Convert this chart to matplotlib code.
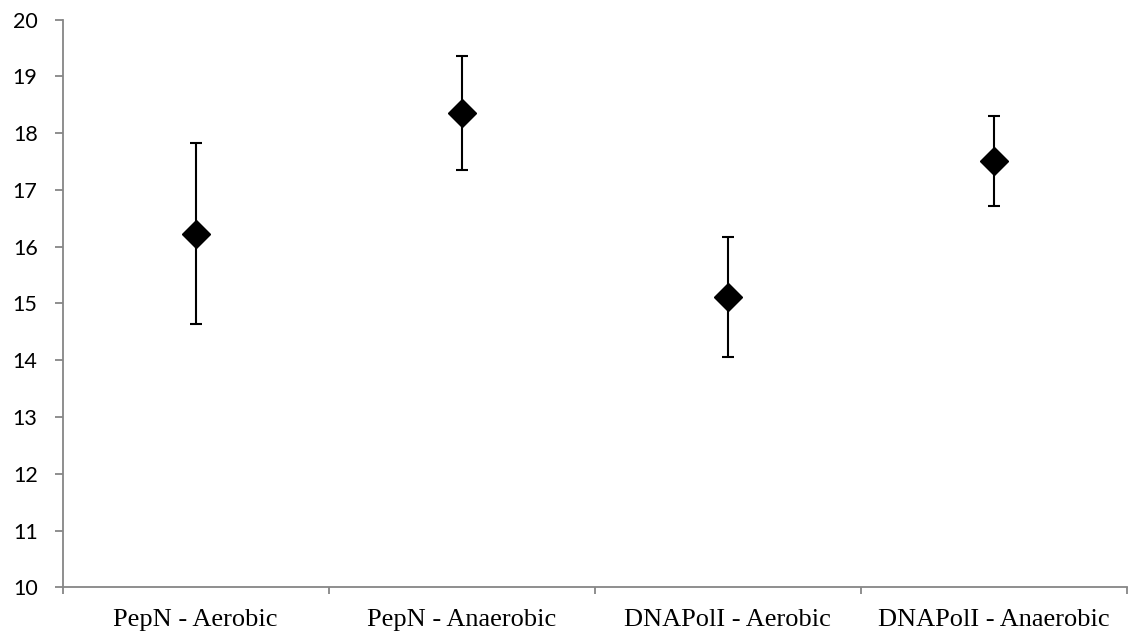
import matplotlib
matplotlib.use("Agg")
import matplotlib.pyplot as plt
import numpy as np

categories = ["PepN - Aerobic", "PepN - Anaerobic", "DNAPolI - Aerobic", "DNAPolI - Anaerobic"]
means = [16.23, 18.36, 15.11, 17.51]
errors = [1.59, 1.00, 1.06, 0.80]
yticks = [10, 11, 12, 13, 14, 15, 16, 17, 18, 19, 20]

fig = plt.figure(figsize=(11.35, 6.36), dpi=100)
ax = fig.add_axes([0.0552, 0.0766, 0.9375, 0.8924])

x = np.arange(1, len(categories) + 1)
ax.errorbar(x, means, yerr=errors, fmt='D', color='black', markersize=14.5,
            ecolor='black', elinewidth=1.5, capsize=4.2, capthick=1.5, zorder=3)

ax.set_xlim(0.5, len(categories) + 0.5)
ax.set_ylim(10, 20)
ax.set_yticks(yticks)
ax.set_yticklabels([str(v) for v in yticks], fontfamily='Lato', fontsize=15.5)

ax.set_xticks(x)
ax.set_xticklabels(categories, fontfamily='Liberation Serif', fontsize=19)
ax.set_xticks(np.arange(0.5, len(categories) + 1, 1.0), minor=True)
ax.tick_params(axis='x', which='major', length=0, pad=15.5)
ax.tick_params(axis='x', which='minor', length=5, width=1.3, color='#868686', direction='out')
ax.tick_params(axis='y', length=6, width=1.3, color='#868686', direction='out', pad=12)

for s in ['top', 'right']:
    ax.spines[s].set_visible(False)
for s in ['left', 'bottom']:
    ax.spines[s].set_color('#868686')
    ax.spines[s].set_linewidth(1.3)

fig.savefig("out.png", dpi=100)
